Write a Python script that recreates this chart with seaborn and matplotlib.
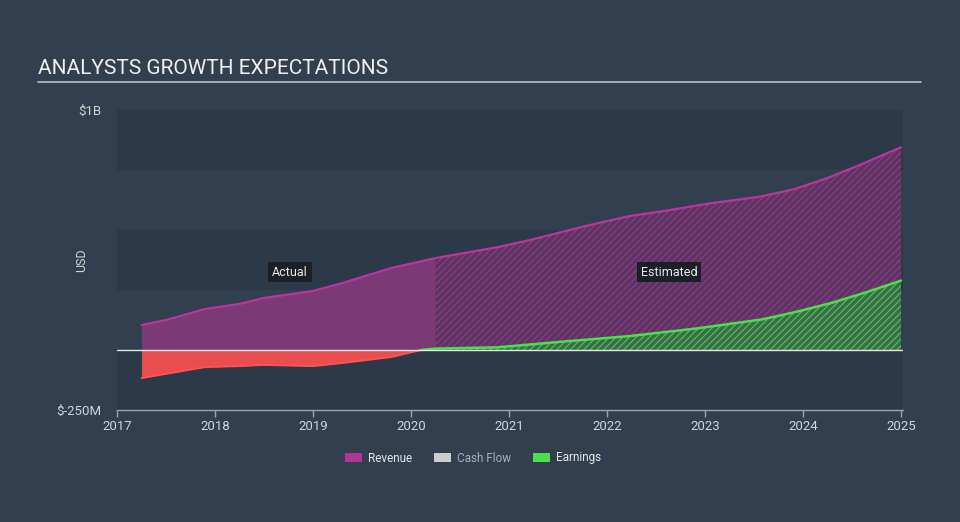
import numpy as np
import pandas as pd
import matplotlib
matplotlib.use("Agg")
import matplotlib.pyplot as plt
from matplotlib.patches import Patch
from matplotlib.lines import Line2D
import seaborn as sns

# ---- data (USD millions) ----
rev_actual_x = [2017.25, 2017.5, 2017.9, 2018.25, 2018.5, 2019.0, 2019.3, 2019.8, 2020.25]
rev_actual_y = [104, 125, 171, 192, 217, 246, 279, 342, 383]
rev_est_x = [2020.25, 2020.53, 2020.88, 2021.21, 2021.55, 2021.9, 2022.23, 2022.64,
             2023.05, 2023.56, 2023.9, 2024.24, 2024.58, 2025.0]
rev_est_y = [383, 403, 428, 458, 493, 528, 558, 583, 611, 639, 669, 715, 771, 845]
earn_actual_x = [2017.25, 2017.6, 2017.9, 2018.25, 2018.5, 2019.0, 2019.3, 2019.8, 2020.1, 2020.25]
earn_actual_y = [-117, -92, -71, -67, -62, -67, -54, -29, 0, 6]
earn_est_x = [2020.25, 2020.88, 2021.55, 2022.23, 2022.92, 2023.59, 2023.94, 2024.28,
              2024.61, 2025.0]
earn_est_y = [6, 11, 35, 58, 90, 128, 160, 195, 236, 289]
year_ticks = [2017, 2018, 2019, 2020, 2021, 2022, 2023, 2024, 2025]
legend_labels = ["Revenue", "Cash Flow", "Earnings"]

BG = "#323f4e"
BAND = "#2c3948"
REV_LINE = "#b8369e"
REV_FILL = "#7b3a75"
EARN_NEG = "#e84e4e"
EARN_LINE = "#4cde4c"
TXT = "#d0d5da"

sns.set_theme(style="dark")
plt.rcParams["font.family"] = ["Roboto", "DejaVu Sans"]
plt.rcParams["hatch.linewidth"] = 0.9

fig = plt.figure(figsize=(9.6, 5.22), dpi=100, facecolor=BG)
ax = fig.add_axes([117 / 960, 1 - 410 / 522, 786 / 960, 300 / 522])
ax.set_facecolor(BG)
ax.set_xlim(2017, 2017 + 786 / 98)
ax.set_ylim(-250, 1000)

for lo, hi in [(750, 1000), (250, 500), (-250, 0)]:
    ax.axhspan(lo, hi, color=BAND, lw=0, zorder=0)

# actual revenue
ax.fill_between(rev_actual_x, 0, rev_actual_y, color=REV_FILL, lw=0, zorder=2)
# estimated revenue (hatched)
ax.fill_between(rev_est_x, 0, rev_est_y, facecolor="#5a3560", edgecolor="#8e3a86",
                hatch="/////", lw=0, zorder=2)
# earnings actual
ea_x = np.array(earn_actual_x); ea_y = np.array(earn_actual_y)
ax.fill_between(ea_x, 0, ea_y, where=ea_y <= 0, interpolate=True, color=EARN_NEG, lw=0, zorder=3)
ax.fill_between(ea_x, 0, ea_y, where=ea_y >= 0, interpolate=True, color="#3f8a4a", lw=0, zorder=3)
# earnings estimated
ax.fill_between(earn_est_x, 0, earn_est_y, facecolor="#3c6a4c", edgecolor="#4fbf4f",
                hatch="/////", lw=0, zorder=3)

df_rev = pd.DataFrame({"x": rev_actual_x[:-1] + rev_est_x, "y": rev_actual_y[:-1] + rev_est_y})
sns.lineplot(data=df_rev, x="x", y="y", ax=ax, color=REV_LINE, lw=1.6, zorder=4)
neg_x = [x for x, y in zip(earn_actual_x, earn_actual_y) if y <= 0]
neg_y = [y for y in earn_actual_y if y <= 0]
sns.lineplot(x=neg_x, y=neg_y, ax=ax, color="#ff5252", lw=1.4, zorder=4)
pos_x = [earn_actual_x[-2], earn_actual_x[-1]] + earn_est_x[1:]
pos_y = [earn_actual_y[-2], earn_actual_y[-1]] + earn_est_y[1:]
sns.lineplot(x=pos_x, y=pos_y, ax=ax, color=EARN_LINE, lw=1.8, zorder=5)

ax.axhline(0, color="#e6e6e6", lw=1.0, zorder=6)

# axes styling
for s in ["left", "right", "top"]:
    ax.spines[s].set_visible(False)
ax.spines["bottom"].set_visible(True)
ax.spines["bottom"].set_color("#9aa3ac")
ax.spines["bottom"].set_linewidth(1.0)
ax.set_xticks(year_ticks)
ax.set_xticklabels([str(y) for y in year_ticks])
ax.tick_params(axis="x", colors="#9aa3ac", direction="out", length=5, width=1,
               labelcolor=TXT, labelsize=9.5, pad=2, bottom=True)
ax.set_yticks([-250, 1000])
ax.set_yticklabels(["$-250M", "$1B"])
ax.tick_params(axis="y", length=0, labelcolor=TXT, labelsize=9.5, pad=11.5)
ax.grid(False)
ax.set_xlabel(""); ax.set_ylabel("")

fig.text(82 / 960, 1 - 260 / 522, "USD", rotation=90, color=TXT, fontsize=9,
         ha="center", va="center")

box = dict(boxstyle="square,pad=0.3", fc="#1b1f27", ec="none")
ax.text(2017 + (290 - 117) / 98, 325, "Actual", color="#e8e8e8", fontsize=9,
        ha="center", va="center", bbox=box, zorder=8)
ax.text(2017 + (669 - 117) / 98, 325, "Estimated", color="#e8e8e8", fontsize=9,
        ha="center", va="center", bbox=box, zorder=8)

# title
fig.text(38 / 960, 1 - 69 / 522, "ANALYSTS GROWTH EXPECTATIONS", color="#f0f0f0",
         fontsize=15, ha="left", va="center")
fig.add_artist(Line2D([38 / 960, 921 / 960], [1 - 82 / 522, 1 - 82 / 522],
                      color="#b8bec5", lw=1.2))

# legend
handles = [Patch(facecolor="#b0369a", edgecolor="none"),
           Patch(facecolor="#cccccc", edgecolor="none"),
           Patch(facecolor="#4ddd4d", edgecolor="none")]
leg = fig.legend(handles, legend_labels, loc="center", bbox_to_anchor=(473 / 960, 1 - 458 / 522),
                 ncol=3, frameon=False, fontsize=8.5, handlelength=1.5, handleheight=0.9,
                 columnspacing=1.8, handletextpad=0.5)
for t, c in zip(leg.get_texts(), ["#e6e6e6", "#a9b0b8", "#e6e6e6"]):
    t.set_color(c)

fig.savefig("out.png", dpi=100, facecolor=BG)
